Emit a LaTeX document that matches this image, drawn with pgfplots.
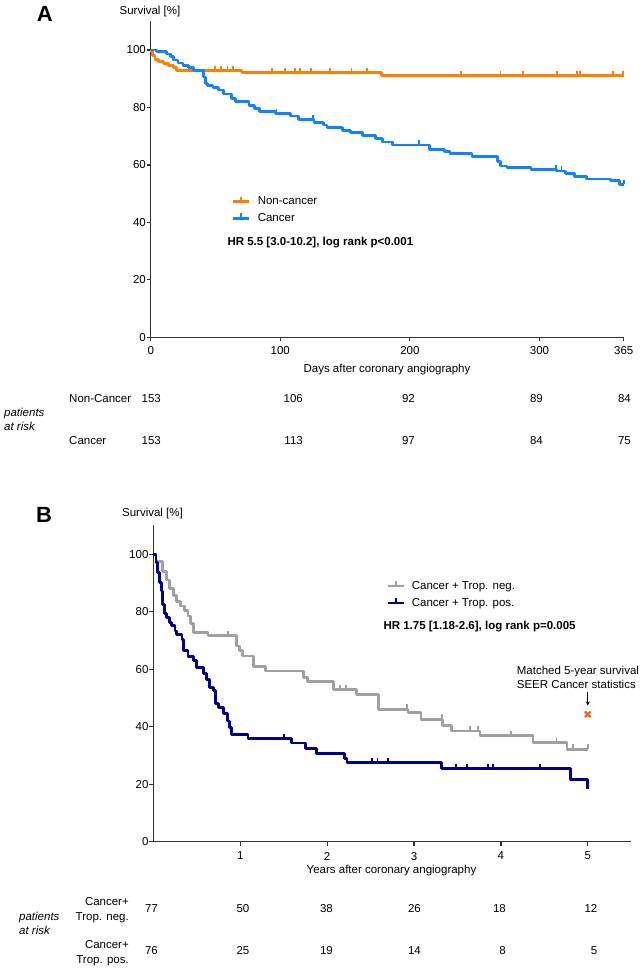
\documentclass[border=0pt]{standalone}
\usepackage{fontspec}
\setmainfont{Liberation Sans}
\usepackage{pgfplots}
\pgfplotsset{compat=1.18}
\usetikzlibrary{arrows.meta}
\definecolor{kmorange}{RGB}{255,128,0}
\definecolor{kmblue}{RGB}{20,130,255}
\definecolor{kmgray}{RGB}{160,160,160}
\definecolor{kmnavy}{RGB}{0,0,140}
\definecolor{seer}{RGB}{255,100,20}
\definecolor{axc}{RGB}{51,51,51}
\newcommand\fs{\fontsize{11.5}{13.8}\selectfont}
\pgfplotsset{
  kmaxis/.style={
    axis lines=left,
    axis line style={-, line width=1.5pt, color=axc},
    tick align=outside,
    major tick length=4pt,
    tick style={line width=1.2pt, color=axc},
    ymin=0, ymax=110, ytick={0,20,...,100},
    enlargelimits=false, clip=false,
    tick label style={font=\fs, /pgf/number format/assume math mode=true},
    yticklabel style={inner sep=0pt, xshift=-0.7pt},
    xticklabel style={inner sep=0pt, yshift=-4.6pt},
    legend cell align=left,
    legend image code/.code={
      \draw[#1, line width=2.8pt] (0pt,0pt) -- (15.6pt,0pt);
      \draw[#1, line width=1.8pt] (7.8pt,0pt) -- (7.8pt,4.8pt);
      \path (7.8pt,-4.8pt);
    },
  },
  km/.style={const plot, line width=2.8pt, mark=none, line join=round},
  cens/.style={only marks, mark=|, mark size=2.4pt, forget plot,
    mark options={line width=1.8pt, yshift=2.4pt}},
}
\begin{document}
\begin{tikzpicture}[x=1pt,y=1pt]
\useasboundingbox (0,0) rectangle (644,970);
% ---------------- Panel A ----------------
\begin{axis}[kmaxis,
  at={(150.7pt,632.7pt)}, anchor=south west,
  x=1.2959pt, y=2.873pt,
  xmin=0, xmax=365, xtick={0,100,200,300,365},
  legend style={at={(axis cs:62.5,44.3)}, anchor=west, draw=none, fill=none,
    font=\fs, inner sep=0pt, row sep=5pt, column sep=7pt,
    nodes={inner sep=0.5pt}},
]
\addplot[km, color=kmorange] table {
0 100
0.5 99.4
1.5 98.2
3.3 96.7
5.9 95.9
9.7 95.3
13.6 94.7
17.4 93.8
20 92.9
70.5 92.1
178 91.1
365 91.1
};
\addlegendentry{Non-cancer}
\addplot[km, color=kmblue] table {
0 100
4.6 99.4
12 98.6
15 97.6
17.4 96.5
21 95.5
25 94.7
29 93.8
33 92.9
40.6 90.6
42 88.4
44 87.6
48 87.0
52.3 86.1
56 84.7
62.5 83.2
65.5 82.0
75.8 80.8
80 79.7
84 78.5
96 77.9
107.7 77.0
114 75.8
126 74.7
133.6 73.9
136 72.9
147.8 72.1
154.3 71.3
163.3 70.3
173.5 69.2
178.7 68.0
186.4 66.9
215 65.5
227 64.8
231 64.0
248 62.8
267.5 61.1
270 59.6
275 59.1
293.5 58.4
313 57.9
320 57.1
327 56.1
336 55.1
355 54.5
361.6 53.2
365 53.2
};
\addlegendentry{Cancer}
\addplot[cens, color=kmorange] table {
49.7 92.9
54.5 92.9
59.2 92.9
63.3 92.9
93.4 92.1
103.5 92.1
111.4 92.1
115.2 92.1
124 92.1
138.3 92.1
155 92.1
166.7 92.1
239.5 91.1
270 91.1
287 91.1
313.8 91.1
329 91.1
331 91.1
357 91.1
364.5 91.1
};
\addplot[cens, color=kmblue] table {
97 77.9
125 75.8
207 66.9
313 58.4
317 57.9
365 53.2
};
\end{axis}
% ---------------- Panel B ----------------
\begin{axis}[kmaxis,
  at={(153.3pt,128.3pt)}, anchor=south west,
  x=86.9pt, y=2.875pt,
  xmin=0, xmax=5.5, xtick={1,2,3,4,5},
  xticklabel style={yshift=-1.5pt},
  legend style={at={(axis cs:2.686,85.9)}, anchor=west, draw=none, fill=none,
    font=\fs, inner sep=0pt, row sep=5pt, column sep=6pt,
    nodes={inner sep=0.5pt}},
]
\addplot[km, color=kmgray] table {
0 100
0.03 97.5
0.11 94
0.15 91
0.19 88
0.23 85.5
0.27 83.5
0.31 82
0.36 80.3
0.40 78.5
0.43 76
0.46 72.7
0.63 71.6
0.96 68.1
0.99 66.4
1.03 64.6
1.15 60.8
1.29 59.4
1.73 57.1
1.77 55.7
2.07 53.0
2.34 51.1
2.59 46.1
2.93 45.0
3.08 42.6
3.33 40.5
3.43 38.5
3.76 36.8
4.37 34.5
4.76 32.2
5.0 32.2
};
\addlegendentry{Cancer + Trop. neg.}
\addplot[km, color=kmnavy] table {
0 100
0.03 97
0.05 93.6
0.07 90.1
0.09 87.2
0.11 82.6
0.13 79.5
0.15 78.0
0.19 76.2
0.21 75.1
0.25 73.3
0.27 72.2
0.33 70.4
0.345 66.5
0.40 64.4
0.46 62.9
0.50 60.6
0.575 58.5
0.61 56.5
0.65 53.6
0.69 52.5
0.72 48.0
0.75 46.6
0.81 44.6
0.85 42.0
0.875 39.7
0.90 37.4
1.09 35.9
1.59 34.3
1.75 32.5
1.88 30.8
2.20 29.0
2.23 27.5
3.32 25.4
4.80 21.7
5.0 18.5
};
\addlegendentry{Cancer + Trop. pos.}
\addplot[cens, color=kmgray] table {
0.86 71.6
2.15 53.0
2.22 53.0
2.92 46.1
3.32 42.6
3.64 38.5
3.74 38.5
4.12 36.8
4.64 34.5
4.83 32.2
5.0 32.2
};
\addplot[cens, color=kmnavy] table {
1.5 35.9
2.52 27.5
2.58 27.5
2.70 27.5
3.48 25.4
3.61 25.4
3.85 25.4
3.91 25.4
4.45 25.4
5.0 18.5
};
\addplot[only marks, mark=x, mark size=4pt, color=seer,
  mark options={line width=2.2pt}, forget plot] coordinates {(5,44.3)};
\draw[-{Stealth[length=4pt,width=4pt]}, line width=1pt]
  (axis cs:5,52.2) -- (axis cs:5,47.4);
\end{axis}
% ---------------- texts ----------------
\node[anchor=base, font=\bfseries\fontsize{22}{24}\selectfont] at (44.7,948.1) {A};
\node[anchor=base, font=\bfseries\fontsize{22}{24}\selectfont] at (44,447.1) {B};
\node[anchor=base, font=\fs] at (150,955.9) {Survival [\%]};
\node[anchor=base, font=\fs] at (152.5,453.2) {Survival [\%]};
\node[anchor=base, font=\fs] at (387,597.6) {Days after coronary angiography};
\node[anchor=base, font=\fs] at (391.5,96.6) {Years after coronary angiography};
\node[anchor=base west, inner sep=0pt, font=\fs\bfseries] at (227.3,724.1) {HR 5.5 [3.0-10.2], log rank p<0.001};
\node[anchor=base west, inner sep=0pt, font=\fs\bfseries] at (383.3,340.9) {HR 1.75 [1.18-2.6], log rank p=0.005};
\node[anchor=base west, inner sep=0pt, font=\fs] at (516.7,295.9) {Matched 5-year survival};
\node[anchor=base west, inner sep=0pt, font=\fs] at (516.7,281.9) {SEER Cancer statistics};
% table A
\node[anchor=base west, inner sep=0pt, font=\fs\itshape] at (4,553.2) {patients};
\node[anchor=base west, inner sep=0pt, font=\fs\itshape] at (4,539.2) {at risk};
\node[anchor=base west, inner sep=0pt, font=\fs] at (69,567.6) {Non-Cancer};
\node[anchor=base west, inner sep=0pt, font=\fs] at (69,525.9) {Cancer};
\foreach \xx/\v in {161/153,303/106,415/92,543/89,631/84}
  \node[anchor=base east, inner sep=0pt, font=\fs] at (\xx,567.6) {\v};
\foreach \xx/\v in {161/153,303/113,415/97,543/84,631/75}
  \node[anchor=base east, inner sep=0pt, font=\fs] at (\xx,525.9) {\v};
% table B
\node[anchor=base west, inner sep=0pt, font=\fs\itshape] at (19,49.9) {patients};
\node[anchor=base west, inner sep=0pt, font=\fs\itshape] at (19,35.9) {at risk};
\node[anchor=base east, inner sep=0pt, font=\fs] at (129,64.9) {Cancer+};
\node[anchor=base east, inner sep=0pt, font=\fs] at (129,49.9) {Trop. neg.};
\node[anchor=base east, inner sep=0pt, font=\fs] at (129,21.6) {Cancer+};
\node[anchor=base east, inner sep=0pt, font=\fs] at (129,6.6) {Trop. pos.};
\foreach \xx/\v in {158/77,249.5/50,333/38,421/26,506/18,597.5/12}
  \node[anchor=base east, inner sep=0pt, font=\fs] at (\xx,57.6) {\v};
\foreach \xx/\v in {158/76,249.5/25,333/19,421/14,506/8,597.5/5}
  \node[anchor=base east, inner sep=0pt, font=\fs] at (\xx,15.9) {\v};
\end{tikzpicture}
\end{document}
